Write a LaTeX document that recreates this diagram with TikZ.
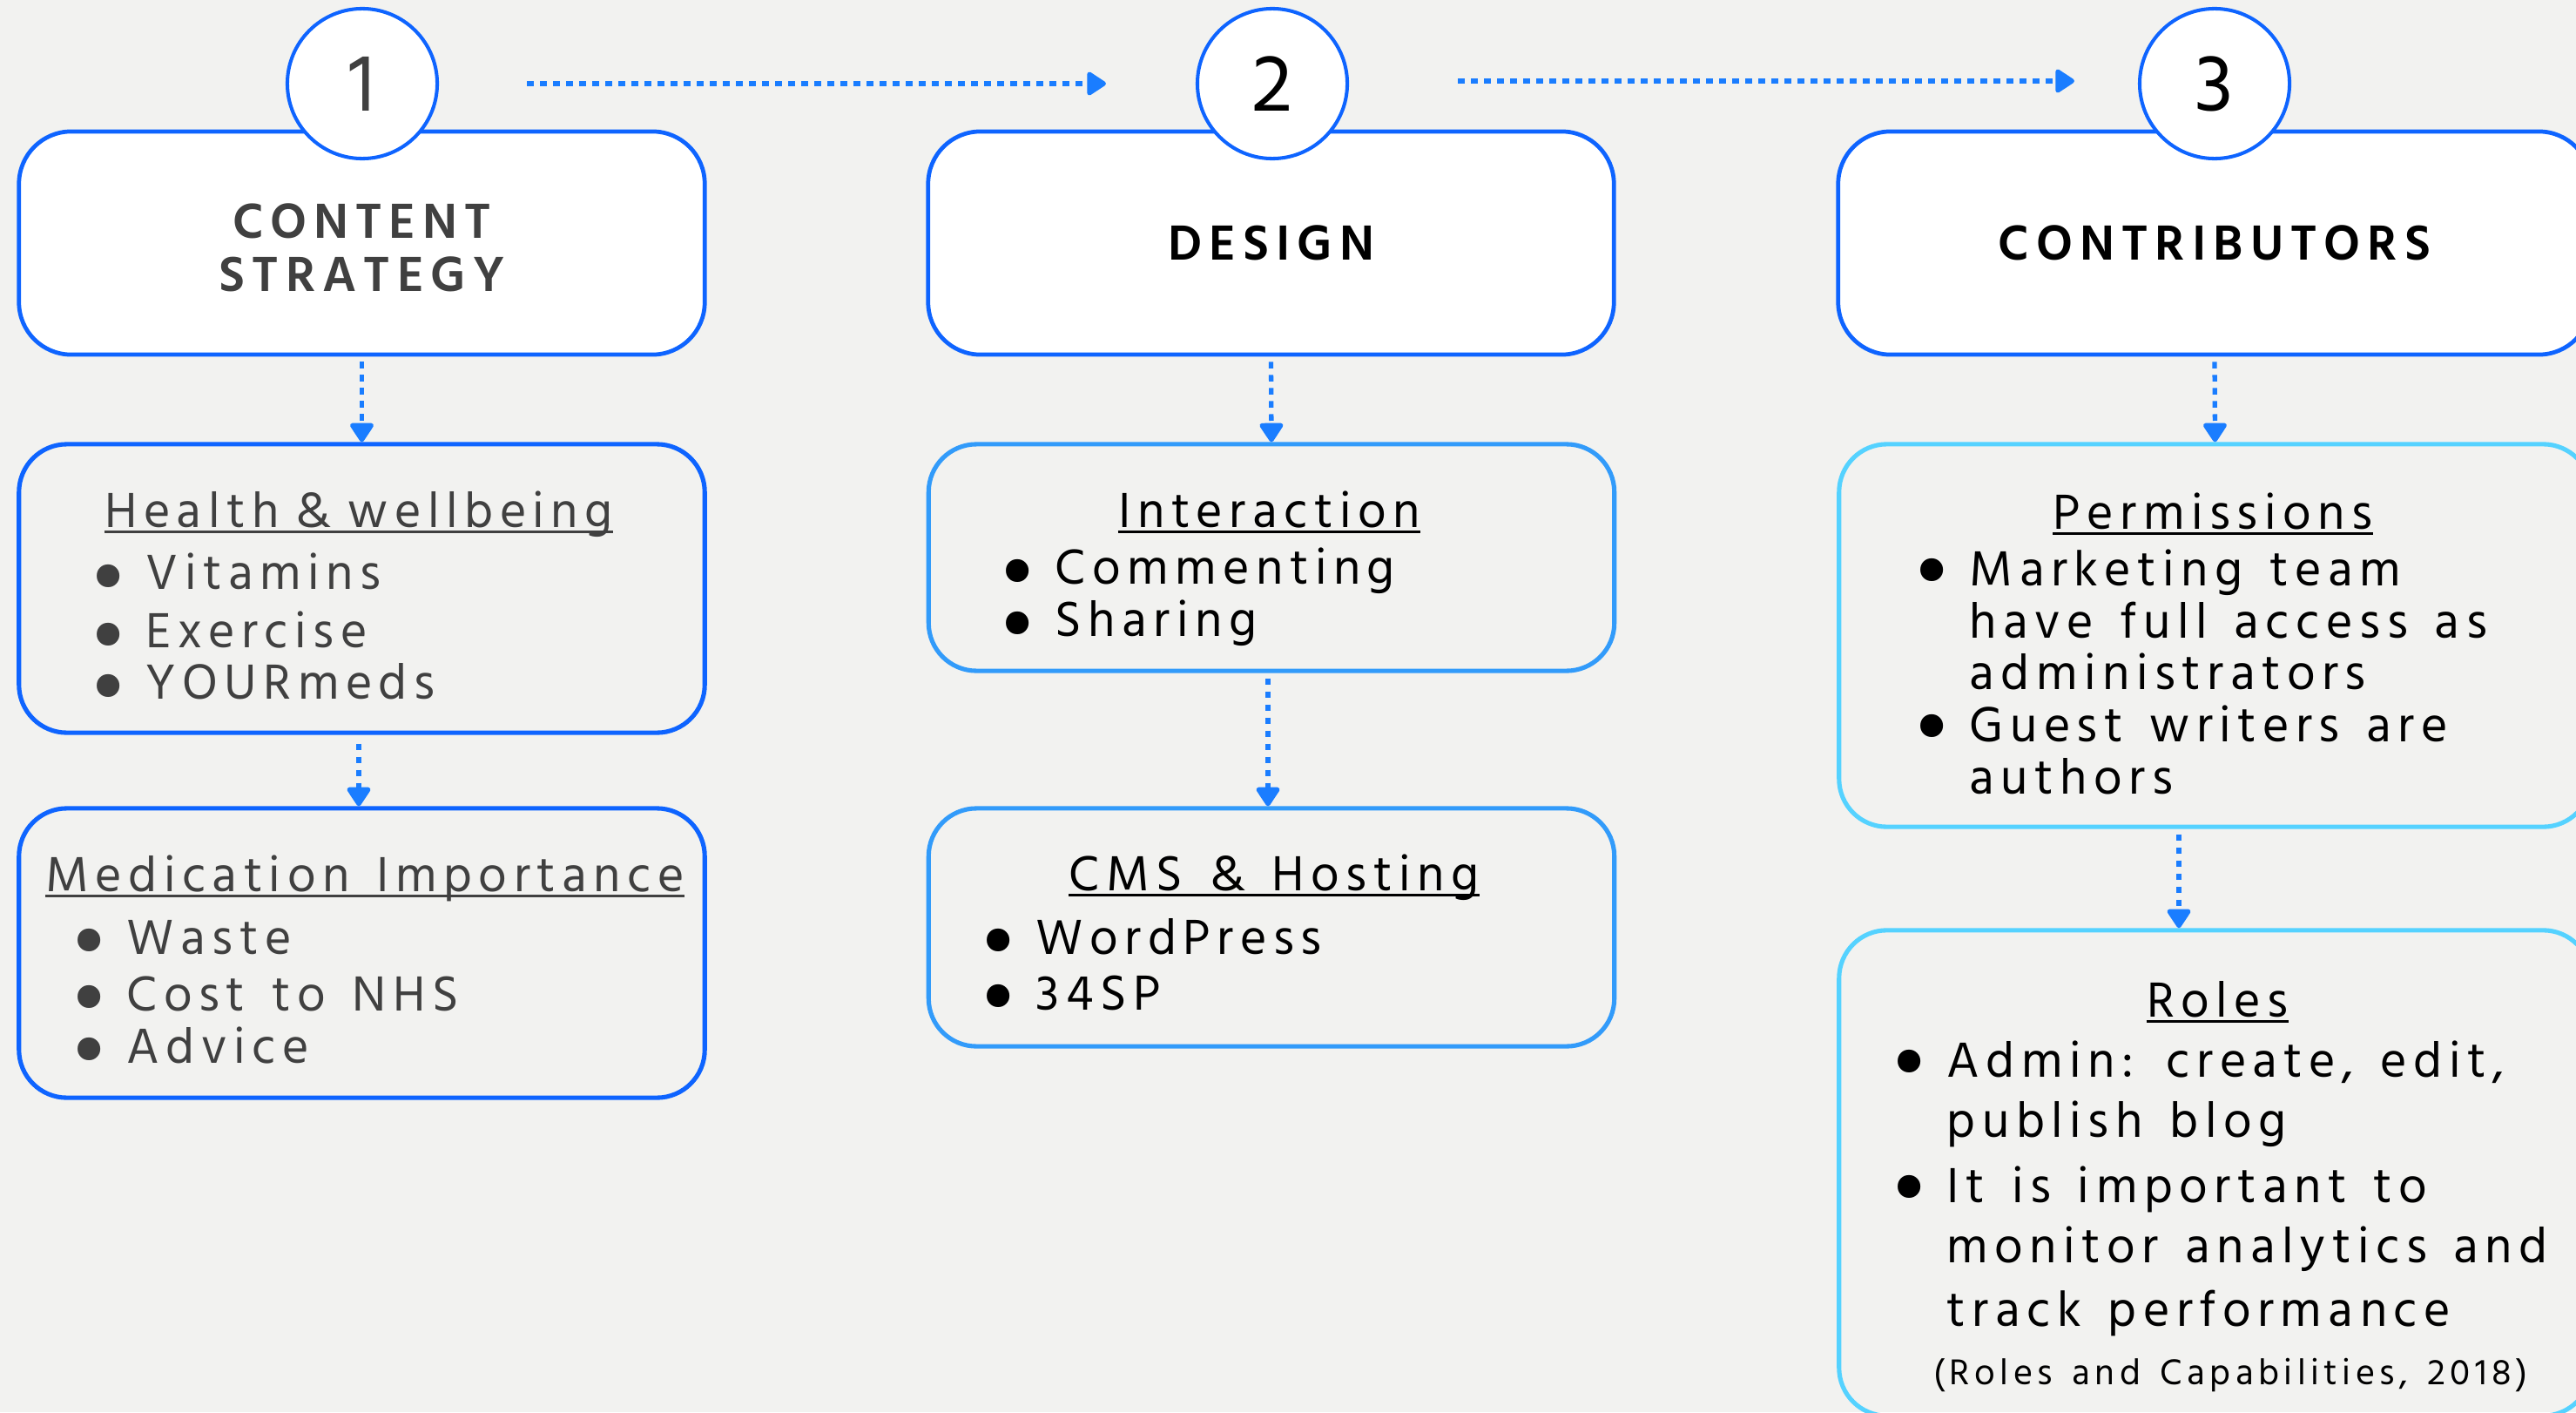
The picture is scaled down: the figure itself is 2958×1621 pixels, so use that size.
\documentclass[tikz,border=0pt]{standalone}
\usepackage{fontspec}
\usetikzlibrary{arrows.meta,calc}
\setmainfont{Hind Siliguri}
\newfontfamily\hindbody[LetterSpace=13,WordSpace=1.5]{Hind Siliguri}
\newfontfamily\hindhead[LetterSpace=14]{Hind Siliguri}
\newfontfamily\hindplain{Hind Siliguri}

\definecolor{bgc}{RGB}{242,242,240}
\definecolor{mainblue}{RGB}{14,100,255}
\definecolor{flowblue}{RGB}{26,125,255}
\definecolor{subblueA}{RGB}{14,100,255}
\definecolor{subblueB}{RGB}{50,155,250}
\definecolor{subblueC}{RGB}{85,210,255}
\definecolor{greytxt}{RGB}{64,64,64}

\tikzset{
  mainbox/.style={draw=mainblue, line width=1.35pt, fill=white, rounded corners=0.6cm,
    minimum width=7.87cm, minimum height=2.56cm, inner sep=0, align=center,
    font=\hindhead\bfseries\fontsize{16.5pt}{17.4pt}\selectfont},
  stepnum/.style={circle, draw=mainblue, line width=1.15pt, fill=white,
    minimum size=1.72cm, inner sep=0, font=\hindplain\fontsize{27pt}{27pt}\selectfont},
  subbox/.style={line width=1.45pt, rounded corners=0.55cm, inner sep=0,
    minimum width=7.87cm},
  flow/.style={draw=flowblue, line width=1.5pt, dash pattern=on 0.075cm off 0.075cm,
    -{Triangle[width=0.3cm,length=0.24cm,round]}},
  hd/.style={anchor=base, inner sep=0},
  ln/.style={anchor=base west, inner sep=0},
  dot/.style={anchor=center, inner sep=0, yshift=-0.127cm,
    font=\hindplain\fontsize{28pt}{28pt}\selectfont},
  ul/.style={line width=0.85pt},
  bodytxt/.style={font=\hindbody\fontsize{16.5pt}{17pt}\selectfont},
}

\begin{document}
\begin{tikzpicture}[x=0.01cm,y=-0.01cm]
\fill[bgc] (0,0) rectangle (2958,1621);
\useasboundingbox (0,0) rectangle (2958,1621);

% main stage boxes
\node[mainbox, text=greytxt] (b1) at (415.5,279) {\rule{0pt}{0.5cm}CONTENT\\STRATEGY};
\node[mainbox, text=black] (b2) at (1459.5,279) {DESIGN};
\node[mainbox, text=black, minimum width=8.64cm] (b3) at (2543,279) {CONTRIBUTORS};

% stage numbers
\node[stepnum, text=greytxt] (c1) at (416,96) {1};
\node[stepnum, text=black] (c2) at (1461,96) {2};
\node[stepnum, text=black] (c3) at (2543,96) {3};

% detail boxes
\node[subbox, draw=subblueA, minimum height=3.31cm] (s1) at (415.5,675.5) {};
\node[subbox, draw=subblueA, minimum height=3.32cm] (s2) at (415.5,1094) {};
\node[subbox, draw=subblueB, minimum height=2.60cm] (s3) at (1460,640) {};
\node[subbox, draw=subblueB, minimum height=2.73cm] (s4) at (1460,1064.5) {};
\node[subbox, draw=subblueC, minimum width=8.63cm, minimum height=4.39cm] (s5) at (2543.5,729.5) {};
\node[subbox, draw=subblueC, minimum width=8.63cm, minimum height=5.57cm] (s6) at (2543.5,1346.5) {};

% stage-to-stage arrows
\coordinate (a1s) at ($(c1.east)+(101,0)$);
\coordinate (a1e) at ($(c2.west)+(-103,0)$);
\coordinate (a2s) at ($(c2.east)+(125,-3)$);
\coordinate (a2e) at ($(c3.west)+(-73,-3)$);
\draw[flow] (a1s) -- (a1e);
\draw[flow] (a2s) -- (a2e);

% downward arrows
\draw[flow] ([yshift=-0.06cm]b1.south) -- (s1.north);
\draw[flow] ($(s1.south)+(-3.5,10)$) -- ($(s2.north)+(-3.5,0)$);
\draw[flow] ([yshift=-0.06cm]b2.south) -- (s3.north);
\draw[flow] ($(s3.south)+(-4,6)$) -- ($(s4.north)+(-4,0)$);
\draw[flow] ([yshift=-0.06cm]b3.south) -- (s5.north);
\draw[flow] ($(s5.south)+(-41.5,6)$) -- ($(s6.north)+(-41.5,0)$);

% column 1 text
\begin{scope}[bodytxt, text=greytxt]
\node[hd] (h1) at (412,605) {Health \kern-3.3pt\& \kern-3.3pt wellbeing};
\draw[ul, greytxt] ([yshift=-0.05cm]h1.base west) -- ([yshift=-0.05cm]h1.base east);
\node[dot] (t11) at (125,660) {\textbullet};
\node[ln] (t12) at (167,676) {Vitamins};
\node[dot] (t13) at (125,727) {\textbullet};
\node[ln] (t14) at (167,743) {Exercise};
\node[dot] (t15) at (125,786) {\textbullet};
\node[ln] (t16) at (167,802) {YOURmeds};
\node[hd] (h2) at (419,1023) {Medication Importance};
\draw[ul, greytxt] ([yshift=-0.05cm]h2.base west) -- ([yshift=-0.05cm]h2.base east);
\node[dot] (t21) at (103,1078) {\textbullet};
\node[ln] (t22) at (145,1095) {Waste};
\node[dot] (t23) at (103,1143) {\textbullet};
\node[ln] (t24) at (145,1160) {Cost to NHS};
\node[dot] (t25) at (103,1203) {\textbullet};
\node[ln] (t26) at (145,1220) {Advice};
\end{scope}

% column 2 text
\begin{scope}[bodytxt, text=black]
\node[hd] (h3) at (1457.5,605) {Interaction};
\draw[ul] ([yshift=-0.05cm]h3.base west) -- ([yshift=-0.05cm]h3.base east);
\node[dot] (t31) at (1169,653.5) {\textbullet};
\node[ln] (t32) at (1211,670) {Commenting};
\node[dot] (t33) at (1169,713.5) {\textbullet};
\node[ln] (t34) at (1211,730) {Sharing};
\node[hd] (h4) at (1463,1022) {CMS \& Hosting};
\draw[ul] ([yshift=-0.05cm]h4.base west) -- ([yshift=-0.05cm]h4.base east);
\node[dot] (t41) at (1146.5,1078) {\textbullet};
\node[ln] (t42) at (1189,1095) {WordPress};
\node[dot] (t43) at (1146.5,1142) {\textbullet};
\node[ln] (t44) at (1189,1159) {34SP};
\end{scope}

% column 3 text
\begin{scope}[bodytxt, text=black]
\node[hd] (h5) at (2541,607) {Permissions};
\draw[ul] ([yshift=-0.05cm]h5.base west) -- ([yshift=-0.05cm]h5.base east);
\node[dot] (t51) at (2219,653) {\textbullet};
\node[ln] (t52) at (2261,672) {Marketing team};
\node[ln] (t53) at (2261,732) {have full access as};
\node[ln] (t54) at (2261,791) {administrators};
\node[dot] (t55) at (2219,832) {\textbullet};
\node[ln] (t56) at (2261,851) {Guest writers are};
\node[ln] (t57) at (2261,911) {authors};
\node[hd] (h6) at (2546.5,1167) {Roles};
\draw[ul] ([yshift=-0.05cm]h6.base west) -- ([yshift=-0.05cm]h6.base east);
\node[dot] (t61) at (2193,1217) {\textbullet};
\node[ln] (t62) at (2235,1236) {Admin: create, edit,};
\node[ln] (t63) at (2235,1305) {publish blog};
\node[dot] (t64) at (2193,1361) {\textbullet};
\node[ln] (t65) at (2235,1380) {It is important to};
\node[ln] (t66) at (2235,1449) {monitor analytics and};
\node[ln] (t67) at (2235,1522) {track performance};
\node[hd, font=\hindbody\fontsize{12pt}{12.5pt}\selectfont] (t68) at (2561.5,1589) {(Roles and Capabilities, 2018)};
\end{scope}
\end{tikzpicture}
\end{document}
